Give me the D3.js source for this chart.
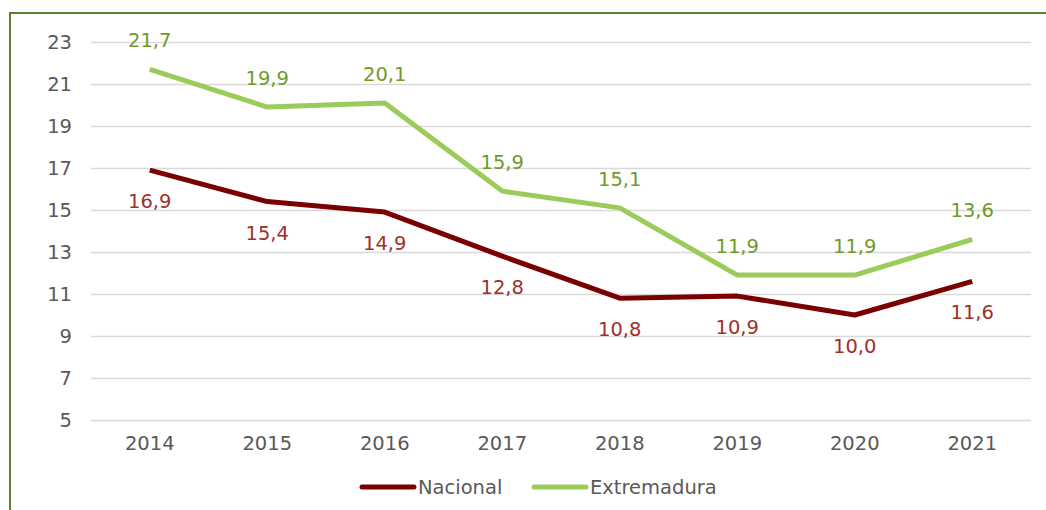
<!DOCTYPE html>
<html>
<head>
<meta charset="utf-8">
<script src="https://cdn.jsdelivr.net/npm/d3@7"></script>
<style>
  body { margin: 0; background: #fff; }
  text { font-family: Verdana, "DejaVu Sans", sans-serif; }
</style>
</head>
<body>
<svg id="chart"></svg>
<script>
const years = ['2014', '2015', '2016', '2017', '2018', '2019', '2020', '2021'];
const nacional = [16.9, 15.4, 14.9, 12.8, 10.8, 10.9, 10.0, 11.6];
const extremadura = [21.7, 19.9, 20.1, 15.9, 15.1, 11.9, 11.9, 13.6];
const yTicks = [5, 7, 9, 11, 13, 15, 17, 19, 21, 23];

const width = 1046;
const height = 510;
const margin = { left: 91, right: 15, top: 42, bottom: 90 };
const fontSize = '19.5px';

const svg = d3.select('#chart').attr('width', width).attr('height', height);

// outer frame (only left and top edges are visible)
svg.append('rect')
  .attr('x', 10).attr('y', 13)
  .attr('width', width + 20).attr('height', height + 20)
  .attr('fill', 'none')
  .attr('stroke', '#5f7f2a')
  .attr('stroke-width', 2);

const x = d3.scaleBand().domain(years).range([margin.left, 1031]);
const y = d3.scaleLinear().domain([5, 23]).range([420, 42]);

// grid
const yAxis = d3.axisLeft(y).tickValues(yTicks).tickSize(-(1031 - margin.left)).tickPadding(19);
const gy = svg.append('g').attr('transform', `translate(${margin.left},0)`).call(yAxis);
gy.select('.domain').remove();
gy.selectAll('.tick line').attr('stroke', '#d9d9d9').attr('stroke-width', 1.5);
gy.selectAll('.tick text').attr('fill', '#595959').style('font-size', fontSize);

const xAxis = d3.axisBottom(x).tickSize(0).tickPadding(16);
const gx = svg.append('g').attr('transform', 'translate(0,420)').call(xAxis);
gx.select('.domain').remove();
gx.selectAll('.tick text').attr('fill', '#595959').style('font-size', fontSize);

const cx = (d, i) => x(years[i]) + x.bandwidth() / 2;
const line = d3.line().x(cx).y(d => y(d));

const series = [
  { name: 'Nacional', values: nacional, color: '#7b0000', label: '#a0302a', dy: 38 },
  { name: 'Extremadura', values: extremadura, color: '#9bcb5b', label: '#6f9a2a', dy: -22 }
];

series.forEach(s => {
  svg.append('path')
    .datum(s.values)
    .attr('d', line)
    .attr('fill', 'none')
    .attr('stroke', s.color)
    .attr('stroke-width', 5)
    .attr('stroke-linejoin', 'round');

  svg.append('g').selectAll('text')
    .data(s.values)
    .join('text')
    .attr('x', cx)
    .attr('y', d => y(d) + s.dy)
    .attr('text-anchor', 'middle')
    .attr('fill', s.label)
    .style('font-size', fontSize)
    .text(d => d.toFixed(1).replace('.', ','));
});

// legend
const legend = svg.append('g').attr('transform', 'translate(0,487)');
const legendItems = [
  { name: 'Nacional', color: '#7b0000', x: 362 },
  { name: 'Extremadura', color: '#9bcb5b', x: 534 }
];
legendItems.forEach(l => {
  legend.append('line')
    .attr('x1', l.x).attr('x2', l.x + 52)
    .attr('y1', 0).attr('y2', 0)
    .attr('stroke', l.color)
    .attr('stroke-width', 5)
    .attr('stroke-linecap', 'round');
  legend.append('text')
    .attr('x', l.x + 56).attr('y', 7)
    .attr('fill', '#595959')
    .style('font-size', fontSize)
    .text(l.name);
});
</script>
</body>
</html>
